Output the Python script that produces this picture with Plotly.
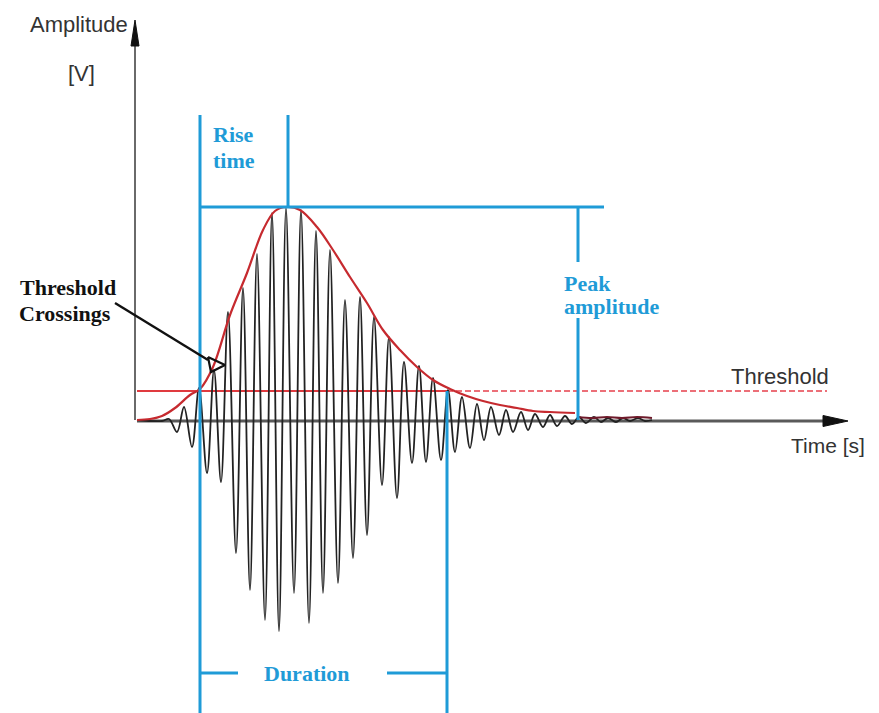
import plotly.graph_objects as go

# ---------------- data (time in µs, amplitude in V) ----------------
peak_times = [3.2, 4.7, 6.2, 7.7, 9.1, 10.6, 12.0, 13.5, 14.9, 16.4, 17.9, 19.3, 20.8, 22.3,
              23.7, 25.2, 26.7, 28.2, 29.6, 31.1, 32.5, 34.0, 35.4, 36.9, 38.4, 39.8, 41.3,
              42.8, 44.2, 45.7, 47.1, 48.6, 50.1]
peak_amps = [0.01, 0.13, 0.32, 0.50, 1.08, 1.32, 1.66, 2.07, 2.12, 2.10, 1.89, 1.70, 1.20, 1.23,
             1.03, 0.83, 0.58, 0.54, 0.42, 0.30, 0.23, 0.16, 0.13, 0.10, 0.08, 0.06, 0.05,
             0.04, 0.03, 0.03, 0.02, 0.02, 0.02]
trough_times = [2.5, 4.0, 5.5, 7.0, 8.4, 9.9, 11.3, 12.8, 14.2, 15.7, 17.2, 18.6, 20.1, 21.6,
                23.0, 24.5, 26.0, 27.5, 28.9, 30.4, 31.8, 33.3, 34.7, 36.2, 37.6, 39.1, 40.6,
                42.0, 43.5, 44.9, 46.4, 47.9, 49.3, 50.8]
trough_amps = [-0.01, -0.12, -0.27, -0.53, -0.62, -1.33, -1.70, -2.00, -2.11, -1.73, -2.03, -1.73,
               -1.63, -1.38, -1.15, -0.65, -0.78, -0.43, -0.42, -0.40, -0.32, -0.28, -0.20, -0.15,
               -0.12, -0.10, -0.07, -0.06, -0.04, -0.03, -0.02, -0.02, -0.01, -0.01]
signal_start = 0.0
signal_end = 51.5

envelope_times = [0.0, 1.3, 2.5, 3.8, 5.3, 6.3, 7.6, 9.3, 11.0, 12.6, 13.8, 15.0, 16.3, 18.0,
                  19.6, 21.3, 23.0, 24.6, 26.3, 28.0, 29.6, 31.3, 33.0, 34.6, 36.3, 38.0,
                  39.6, 41.3, 43.8]
envelope_amps = [0.0, 0.01, 0.04, 0.12, 0.25, 0.31, 0.53, 1.05, 1.47, 1.90, 2.09, 2.13, 2.10, 1.93,
                 1.70, 1.43, 1.17, 0.90, 0.70, 0.53, 0.40, 0.31, 0.24, 0.19, 0.15, 0.12,
                 0.09, 0.08, 0.07]
tail_times = [44.1, 45.5, 47.0, 48.5, 50.0, 51.5]
tail_amps = [0.03, 0.02, 0.03, 0.02, 0.03, 0.02]

threshold = 0.29
first_crossing = 6.3
last_crossing = 31.0
peak_time = 15.1
peak_amplitude = 2.13
peak_marker_time = 44.1

# ---------------- styling ----------------
BLUE = "#1f9bd7"
RED = "#c62a2f"
BLACK_WAVE = "#222222"
SERIF = "Liberation Serif, Times New Roman, serif"
SANS = "Liberation Sans, Arial, sans-serif"

# the page has an 8px body margin, so the figure is drawn 8px in from the top-left
X_RANGE = [-12.9, 74.2]
Y_RANGE = [-2.93, 4.12]
TOP_RISE = 3.05
DUR_Y = -2.53
BOTTOM = -3.2

fig = go.Figure()


def line(xs, ys, color, width, dash="solid", shape="linear", fill=None, fillcolor=None):
    fig.add_trace(go.Scatter(x=xs, y=ys, mode="lines", hoverinfo="skip",
                             line=dict(color=color, width=width, dash=dash, shape=shape),
                             fill=fill, fillcolor=fillcolor, showlegend=False))


# axes with arrows
line([0, 69.0], [-0.01, -0.01], "#5a5a5a", 3)
line([68.6, 71.1, 68.6, 68.6], [0.045, -0.01, -0.065, 0.045], "#111", 1, fill="toself", fillcolor="#111")
line([-0.2, -0.2], [0, 3.8], "#6a6a6a", 2)
line([-0.6, -0.2, 0.2, -0.6], [3.74, 4.00, 3.74, 3.74], "#111", 1, fill="toself", fillcolor="#111")

# threshold
line([0, last_crossing], [threshold, threshold], "#e03a3f", 1.8)
line([last_crossing, 69.0], [threshold, threshold], "#ec6f78", 1.8, dash="6px,3px")

# waveform
pts = sorted(list(zip(peak_times, peak_amps)) + list(zip(trough_times, trough_amps)))
wx = [signal_start] + [p[0] for p in pts] + [signal_end]
wy = [0.0] + [p[1] for p in pts] + [0.0]
line(wx, wy, BLACK_WAVE, 1.8, shape="spline")

# envelope
line(envelope_times, envelope_amps, RED, 2.2, shape="spline")
line(tail_times, tail_amps, "#6e1a2a", 2.2, shape="spline")

# blue annotation lines
line([first_crossing, first_crossing], [TOP_RISE, BOTTOM], BLUE, 3)
line([peak_time, peak_time], [TOP_RISE, peak_amplitude], BLUE, 3)
line([first_crossing, 46.7], [peak_amplitude, peak_amplitude], BLUE, 3)
line([peak_marker_time, peak_marker_time], [peak_amplitude, 1.58], BLUE, 3)
line([peak_marker_time, peak_marker_time], [1.02, 0.0], BLUE, 3)
line([last_crossing, last_crossing], [threshold, BOTTOM], BLUE, 3)
line([first_crossing, 10.1], [DUR_Y, DUR_Y], BLUE, 3)
line([25.0, last_crossing], [DUR_Y, DUR_Y], BLUE, 3)

# threshold-crossing arrow (open head)
line([-2.2, 7.1], [1.17, 0.60], "#111", 2.4)
line([7.1, 8.8, 7.4, 7.1], [0.63, 0.55, 0.48, 0.63], "#111", 2.2)


def text(s, x, y, font, size, color, xanchor="left", bold=False):
    fig.add_annotation(x=x, y=y, xref="x", yref="y", text=f"<b>{s}</b>" if bold else s,
                       showarrow=False, xanchor=xanchor, yanchor="middle",
                       font=dict(family=font, size=size, color=color))


text("Amplitude", -10.9, 3.96, SANS, 22, "#333")
text("[V]", -5.6, 3.47, SANS, 22, "#333", xanchor="center")
text("Time [s]", 73.0, -0.25, SANS, 21, "#333", xanchor="right")
text("Threshold", 59.2, 0.44, SANS, 22, "#333")
text("Rise", 7.4, 2.86, SERIF, 22, BLUE, bold=True)
text("time", 7.4, 2.60, SERIF, 22, BLUE, bold=True)
text("Peak", 42.5, 1.37, SERIF, 22, BLUE, bold=True)
text("amplitude", 42.5, 1.14, SERIF, 22, BLUE, bold=True)
text("Threshold", -11.9, 1.33, SERIF, 22, "#111", bold=True)
text("Crossings", -12.0, 1.07, SERIF, 22, "#111", bold=True)
text("Duration", 17.0, DUR_Y, SERIF, 22, BLUE, xanchor="center", bold=True)

fig.update_layout(width=871, height=705, margin=dict(l=0, r=0, t=0, b=0),
                  paper_bgcolor="white", plot_bgcolor="white", showlegend=False,
                  xaxis=dict(range=X_RANGE, visible=False, fixedrange=True),
                  yaxis=dict(range=Y_RANGE, visible=False, fixedrange=True))

fig.write_html("out.html")
